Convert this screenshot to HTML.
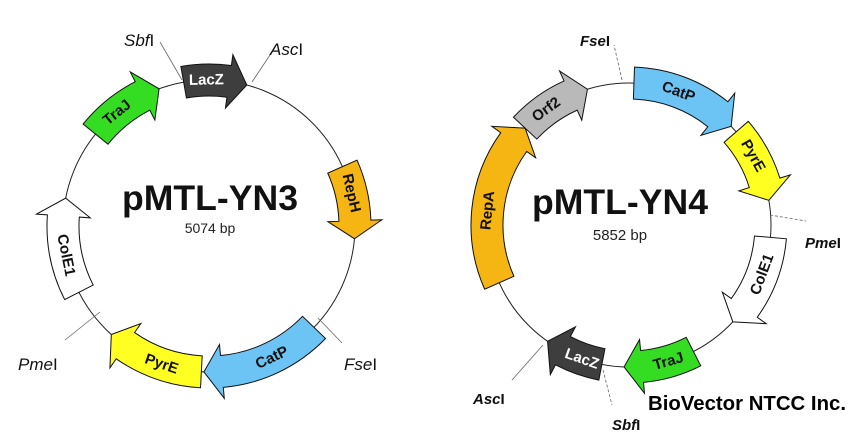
<!DOCTYPE html>
<html><head><meta charset="utf-8"><style>
html,body{margin:0;padding:0;background:#fff;}
svg{display:block;}
text{font-family:"Liberation Sans","DejaVu Sans",sans-serif;}
</style></head><body>
<svg id="s" width="864" height="432" viewBox="0 0 864 432" xmlns="http://www.w3.org/2000/svg">
<circle cx="209" cy="226" r="146" fill="none" stroke="#222" stroke-width="1"/>
<circle cx="629" cy="225" r="142" fill="none" stroke="#222" stroke-width="1"/>
<g stroke="#666" stroke-width="0.8">
<line x1="182" y1="80" x2="160" y2="42"/>
<line x1="252" y1="82" x2="272" y2="52"/>
<line x1="318" y1="318" x2="342" y2="343"/>
<line x1="100" y1="312" x2="65" y2="340"/>
<line x1="622" y1="80" x2="614" y2="45" stroke-dasharray="3,2"/>
<line x1="770" y1="215" x2="806" y2="221" stroke-dasharray="3,2"/>
<line x1="543" y1="345" x2="512" y2="380"/>
<line x1="603" y1="370" x2="612" y2="405" stroke-dasharray="3,2"/>
</g>
<g font-style="italic" font-size="17" fill="#111">
<text x="124" y="46">Sbf<tspan font-style="normal">I</tspan></text>
<text x="270" y="55">Asc<tspan font-style="normal">I</tspan></text>
<text x="344" y="370">Fse<tspan font-style="normal">I</tspan></text>
<text x="18" y="370">Pme<tspan font-style="normal">I</tspan></text>
</g>
<g font-style="italic" font-weight="bold" font-size="15" fill="#111">
<text x="580" y="46">Fse<tspan font-style="normal">I</tspan></text>
<text x="805" y="248">Pme<tspan font-style="normal">I</tspan></text>
<text x="473" y="404">Asc<tspan font-style="normal">I</tspan></text>
<text x="612" y="430">Sbf<tspan font-style="normal">I</tspan></text>
</g>
<g id="arrows"></g>
<text x="210" y="210" text-anchor="middle" font-weight="bold" font-size="35" fill="#111" textLength="176" lengthAdjust="spacingAndGlyphs">pMTL-YN3</text>
<text x="210" y="233" text-anchor="middle" font-size="14" fill="#222">5074 bp</text>
<text x="620" y="214" text-anchor="middle" font-weight="bold" font-size="35" fill="#111" textLength="176" lengthAdjust="spacingAndGlyphs">pMTL-YN4</text>
<text x="620" y="240" text-anchor="middle" font-size="15" fill="#222">5852 bp</text>
<text x="648" y="410" font-weight="bold" font-size="20" fill="#000" textLength="198" lengthAdjust="spacingAndGlyphs">BioVector NTCC Inc.</text>
</svg>
<script>
var g=document.getElementById('arrows');
function P(cx,cy,r,a){var t=a*Math.PI/180;return [cx+r*Math.sin(t),cy-r*Math.cos(t)];}
function arrow(cx,cy,R,a1,a2,col,lab,tc){
 var w=16,hw=27,hl=18/R*57.3,ah=a2-hl;
 var o1=P(cx,cy,R+w,a1),o2=P(cx,cy,R+w,ah),i2=P(cx,cy,R-w,ah),i1=P(cx,cy,R-w,a1);
 var wo=P(cx,cy,R+hw,ah),wi=P(cx,cy,R-hw,ah),tip=P(cx,cy,R,a2);
 var large=(ah-a1)>180?1:0;
 var d='M'+o1+' A'+(R+w)+' '+(R+w)+' 0 '+large+' 1 '+o2+' L'+wo+' L'+tip+' L'+wi+' L'+i2+' A'+(R-w)+' '+(R-w)+' 0 '+large+' 0 '+i1+' Z';
 var p=document.createElementNS('http://www.w3.org/2000/svg','path');
 p.setAttribute('d',d);p.setAttribute('fill',col);p.setAttribute('stroke','#111');p.setAttribute('stroke-width','1');
 g.appendChild(p);
 var m=(a1+ah)/2,n=((m%360)+360)%360,pt=P(cx,cy,R,m),rot=n;
 if(n>90&&n<270)rot=n-180;
 var t=document.createElementNS('http://www.w3.org/2000/svg','text');
 t.setAttribute('x',pt[0]);t.setAttribute('y',pt[1]);
 t.setAttribute('text-anchor','middle');t.setAttribute('dominant-baseline','central');
 t.setAttribute('font-weight','bold');t.setAttribute('font-size','15');t.setAttribute('fill',tc||'#111');
 t.setAttribute('transform','rotate('+rot+' '+pt[0]+' '+pt[1]+')');
 t.textContent=lab;g.appendChild(t);
}
var L=[209,226,146];
arrow(L[0],L[1],L[2],-10,15,'#3e3e3e','LacZ','#fff');
arrow(L[0],L[1],L[2],-51,-20,'#35dd22','TraJ');
arrow(L[0],L[1],L[2],66,95,'#f5b512','RepH');
arrow(L[0],L[1],L[2],134,182,'#6cc4f4','CatP');
arrow(L[0],L[1],L[2],183,222,'#ffff22','PyrE');
arrow(L[0],L[1],L[2],243,281,'#ffffff','ColE1');
var R=[629,225,142];
arrow(R[0],R[1],R[2],-47,-17,'#b9b9b9','Orf2');
arrow(R[0],R[1],R[2],2,46,'#6cc4f4','CatP');
arrow(R[0],R[1],R[2],49,80,'#ffff22','PyrE');
arrow(R[0],R[1],R[2],95,133,'#ffffff','ColE1');
arrow(R[0],R[1],R[2],153,182,'#35dd22','TraJ');
arrow(R[0],R[1],R[2],191,215,'#3e3e3e','LacZ','#fff');
arrow(R[0],R[1],R[2],246,313,'#f5b512','RepA');
</script>
</body></html>
